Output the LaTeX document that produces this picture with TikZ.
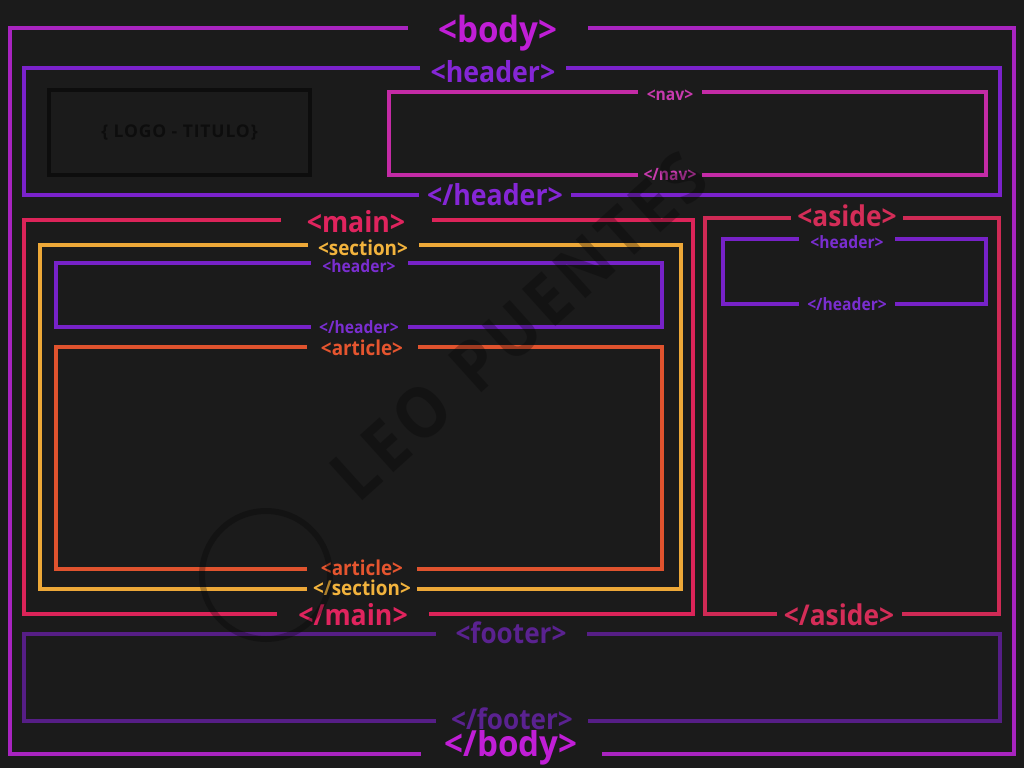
\documentclass[tikz,border=0pt]{standalone}
\usepackage{fontspec}
\newfontfamily\tagf{Open Sans}[FakeStretch=0.92]
\newfontfamily\logof{Open Sans}[LetterSpace=5.0]
\definecolor{bg}{HTML}{1B1B1B}
\definecolor{cBody}{HTML}{A824C0}
\definecolor{tBody}{HTML}{C01ED6}
\definecolor{cHead}{HTML}{7B22CC}
\definecolor{tHead}{HTML}{8526D6}
\definecolor{cNav}{HTML}{C42BA6}
\definecolor{tNav}{HTML}{C83AAE}
\definecolor{cMain}{HTML}{DC2459}
\definecolor{tMain}{HTML}{E0245E}
\definecolor{cSec}{HTML}{EDA838}
\definecolor{tSec}{HTML}{F2B33D}
\definecolor{cSH}{HTML}{7722C8}
\definecolor{tSH}{HTML}{7A2ED0}
\definecolor{cArt}{HTML}{E0532E}
\definecolor{tArt}{HTML}{E5552F}
\definecolor{cAside}{HTML}{CF2A55}
\definecolor{tAside}{HTML}{D42D58}
\definecolor{cFoot}{HTML}{561E86}
\definecolor{tFoot}{HTML}{5A2290}
\definecolor{cLogo}{HTML}{0D0D0D}
\tikzset{
  box/.style={draw, line width=3.5pt, inner sep=0pt},
  lab/.style={fill=bg, inner sep=0pt, anchor=base, font=\tagf\bfseries\fontsize{#1}{#1}\selectfont},
}
\begin{document}
\begin{tikzpicture}[x=1pt,y=-1pt]
\fill[bg] (0,0) rectangle (1024,768);
\useasboundingbox (0,0) rectangle (1024,768);
% boxes
\node[box, draw=cBody, minimum width=1004pt, minimum height=726pt] (body) at (512,391) {};
\node[box, draw=cHead, minimum width=976pt, minimum height=127pt] (header) at (512,131.5) {};
\node[box, draw=cLogo, minimum width=261pt, minimum height=85pt] (logo) at (179.5,132.5) {};
\node[box, draw=cNav, minimum width=597pt, minimum height=83pt] (nav) at (687.5,133.5) {};
\node[box, draw=cMain, minimum width=669pt, minimum height=394pt] (main) at (358.5,417) {};
\node[box, draw=cSec, minimum width=641pt, minimum height=344pt] (section) at (360.5,417) {};
\node[box, draw=cSH, minimum width=606pt, minimum height=64pt] (sheader) at (359,295) {};
\node[box, draw=cArt, minimum width=606pt, minimum height=222pt] (article) at (359,458) {};
\node[box, draw=cAside, minimum width=294pt, minimum height=396pt] (aside) at (852,416) {};
\node[box, draw=cSH, minimum width=263pt, minimum height=65pt] (aheader) at (854.5,271.5) {};
\node[box, draw=cFoot, minimum width=976pt, minimum height=87pt] (footer) at (512,677.5) {};
% logo text
\node[text=cLogo, font=\logof\bfseries\fontsize{17.5}{17.5}\selectfont] (logotxt) at (179.5,133) {\{ LOGO - TITULO\}};
% labels
\node[lab=36, text=tBody, minimum width=180pt] (bodyT) at (498,42.4) {<body>};
\node[lab=36, text=tBody, minimum width=181pt] (bodyB) at (511,756) {</body>};
\node[lab=29, text=tHead, minimum width=146pt] (headT) at (493,82.6) {<header>};
\node[lab=29, text=tHead, minimum width=152pt] (headB) at (495,205.6) {</header>};
\node[lab=17, text=tNav, minimum width=64pt] (navT) at (670,100.8) {<nav>};
\node[lab=17, text=tNav, minimum width=64pt] (navB) at (670,180.8) {</nav>};
\node[lab=29, text=tMain, minimum width=151pt] (mainT) at (356,232.6) {<main>};
\node[lab=29, text=tMain, minimum width=152pt] (mainB) at (353,625.6) {</main>};
\node[lab=20.5, text=tSec, minimum width=111pt] (secT) at (363,255.2) {<section>};
\node[lab=20.5, text=tSec, minimum width=110pt] (secB) at (362,595.2) {</section>};
\node[lab=17, text=tSH, minimum width=97pt] (shT) at (359,272.8) {<header>};
\node[lab=17, text=tSH, minimum width=97pt] (shB) at (359,333.8) {</header>};
\node[lab=20.5, text=tArt, minimum width=111pt] (artT) at (362,355.2) {<article>};
\node[lab=20.5, text=tArt, minimum width=110pt] (artB) at (362,575.7) {<article>};
\node[lab=28.6, text=tAside, minimum width=112pt] (asideT) at (847,226.4) {<aside>};
\node[lab=28.6, text=tAside, minimum width=125pt] (asideB) at (839,625.4) {</aside>};
\node[lab=17, text=tSH, minimum width=96pt] (ahT) at (847,248.8) {<header>};
\node[lab=17, text=tSH, minimum width=96pt] (ahB) at (847,310.8) {</header>};
\node[lab=28.4, text=tFoot, minimum width=151pt] (footT) at (511,643.4) {<footer>};
\node[lab=28.4, text=tFoot, minimum width=152pt] (footB) at (512,729.4) {</footer>};
% watermark
\def\ws{\hspace{5pt}}
\node[rotate=42, text=black, opacity=0.28, font=\tagf\bfseries\fontsize{70}{70}\selectfont] (wm) at (519,326) {L\ws E\ws O\ws\ \ws P\ws U\ws E\ws N\ws T\ws E\ws S};
\node[circle, draw=black, opacity=0.28, line width=6pt, minimum size=128pt] (wmlogo) at (266,575) {};
\end{tikzpicture}
\end{document}
